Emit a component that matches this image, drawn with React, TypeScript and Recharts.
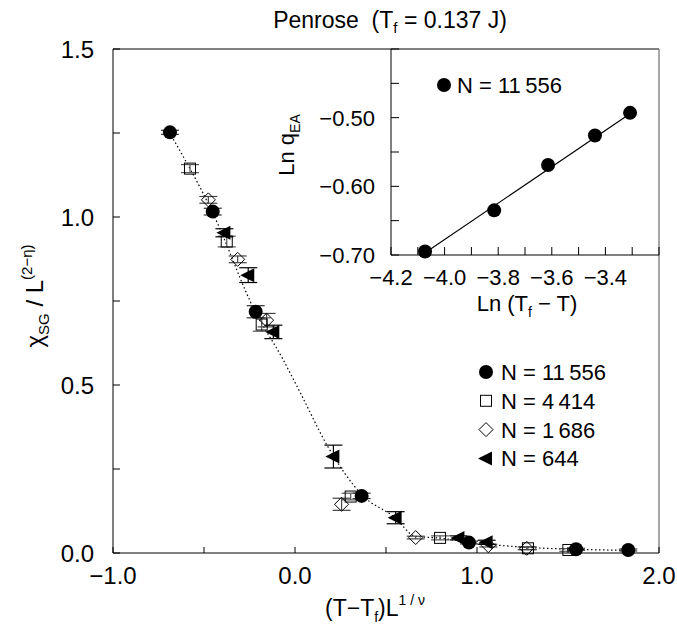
import { ComposedChart, Scatter, Line, XAxis, YAxis, ErrorBar, ReferenceLine } from 'recharts'

// main plot: scaling collapse, x = (T-Tf)L^(1/nu), y = chi_SG / L^(2-eta)
const n11556X = [-0.687, -0.452, -0.216, 0.366, 0.956, 1.544, 1.831]
const n11556Y = [1.252, 1.016, 0.718, 0.17, 0.031, 0.011, 0.009]
const n11556Err = [0.006, 0.01, 0.018, 0.008, 0.004, 0.003, 0.003]

const n4414X = [-0.577, -0.375, -0.183, 0.306, 0.797, 1.28, 1.502]
const n4414Y = [1.144, 0.927, 0.68, 0.168, 0.045, 0.014, 0.009]
const n4414Err = [0.012, 0.016, 0.02, 0.01, 0.006, 0.004, 0.004]

const n1686X = [-0.476, -0.315, -0.156, 0.256, 0.663, 1.062, 1.273]
const n1686Y = [1.051, 0.874, 0.693, 0.145, 0.046, 0.022, 0.014]
const n1686Err = [0.01, 0.01, 0.02, 0.018, 0.004, 0.004, 0.004]

const n644X = [-0.388, -0.257, -0.119, 0.211, 0.553, 0.898, 1.053]
const n644Y = [0.953, 0.827, 0.658, 0.287, 0.105, 0.045, 0.032]
const n644Err = [0.012, 0.022, 0.02, 0.034, 0.018, 0.006, 0.006]

// dotted guide curve
const curveX = [-0.69, -0.45, -0.22, -0.07, 0.03, 0.18, 0.37, 0.55, 0.66, 0.8, 0.96, 1.27, 1.54, 1.83]
const curveY = [1.252, 1.01, 0.72, 0.58, 0.476, 0.317, 0.172, 0.105, 0.05, 0.044, 0.032, 0.017, 0.011, 0.008]

const mainXTicks = [-1, -0.5, 0, 0.5, 1, 1.5, 2]
const mainYTicks = [0, 0.25, 0.5, 0.75, 1, 1.25, 1.5]

// inset: Ln q_EA vs Ln(Tf - T)
const insetX = [-4.073, -3.815, -3.614, -3.439, -3.308]
const insetY = [-0.695, -0.635, -0.569, -0.526, -0.493]
const fitX = [-4.085, -3.3]
const fitY = [-0.7, -0.492]

const insetXTicks = [-4.2, -4.1, -4.0, -3.9, -3.8, -3.7, -3.6, -3.5, -3.4, -3.3, -3.2]
const insetXLabels = [-4.2, -4.0, -3.8, -3.6, -3.4]
const insetYTicks = [-0.7, -0.65, -0.6, -0.55, -0.5, -0.45, -0.4]
const insetYLabels = [-0.7, -0.6, -0.5]

const zip = (xs: number[], ys: number[], es?: number[]) =>
  xs.map((x, i) => ({ x, y: ys[i], err: es ? es[i] : 0 }))

const fmt = (v: number, d: number) => v.toFixed(d).replace('-', '\u2212')
const near = (v: number, list: number[]) => list.some((t) => Math.abs(t - v) < 1e-6)

const FONT = '"Liberation Sans", Arial, sans-serif'

const Dot = ({ cx, cy }: any) => <circle cx={cx} cy={cy} r={7} fill="#000" />
const Square = ({ cx, cy }: any) => (
  <rect x={cx - 5.5} y={cy - 5.5} width={11} height={11} fill="none" stroke="#000" strokeWidth={1} />
)
const Diamond = ({ cx, cy }: any) => (
  <polygon points={`${cx},${cy - 7} ${cx + 7},${cy} ${cx},${cy + 7} ${cx - 7},${cy}`} fill="none" stroke="#000" strokeWidth={1} />
)
const Tri = ({ cx, cy }: any) => (
  <polygon points={`${cx - 8},${cy} ${cx + 6},${cy - 7} ${cx + 6},${cy + 7}`} fill="#000" />
)

const MainXTick = ({ x, y, payload }: any) => (
  <g>
    <line x1={x} y1={y} x2={x} y2={y - 6} stroke="#000" />
    {Number.isInteger(payload.value) && (
      <text x={x} y={y + 31} textAnchor="middle" fontSize={24} fill="#000">{fmt(payload.value, 1)}</text>
    )}
  </g>
)
const MainYTick = ({ x, y, payload }: any) => (
  <g>
    <line x1={x} y1={y} x2={x + 7} y2={y} stroke="#000" />
    {near(payload.value * 2, [0, 1, 2, 3]) && (
      <text x={x - 19} y={y + 8.5} textAnchor="end" fontSize={24} fill="#000">{fmt(payload.value, 1)}</text>
    )}
  </g>
)
const InsetXTick = ({ x, y, payload }: any) => (
  <g>
    <line x1={x} y1={y} x2={x} y2={y - 8} stroke="#000" />
    {near(payload.value, insetXLabels) && (
      <text x={x} y={y + 30} textAnchor="middle" fontSize={22} fill="#000">{fmt(payload.value, 1)}</text>
    )}
  </g>
)
const InsetYTick = ({ x, y, payload }: any) => (
  <g>
    <line x1={x} y1={y} x2={x + 8} y2={y} stroke="#000" />
    {near(payload.value, insetYLabels) && (
      <text x={x - 16} y={y + 8} textAnchor="end" fontSize={22} fill="#000">{fmt(payload.value, 2)}</text>
    )}
  </g>
)

const legendRows = [
  { label: 'N = 11\u2009556', Mark: Dot },
  { label: 'N = 4\u2009414', Mark: Square },
  { label: 'N = 1\u2009686', Mark: Diamond },
  { label: 'N = 644', Mark: Tri },
]

export default function App() {
  return (
    <div style={{ position: 'absolute', left: 0, top: 0, width: 677, height: 628, background: '#fff', fontFamily: FONT }}>
      <div style={{ position: 'absolute', left: 0, top: 0 }}>
        <ComposedChart width={677} height={628} margin={{ top: 49, right: 18, bottom: 35, left: 53 }}>
          <XAxis type="number" dataKey="x" domain={[-1, 2]} ticks={mainXTicks} interval={0} tickSize={0} tickMargin={0} tick={<MainXTick />} height={40} axisLine={{ stroke: '#000' }} tickLine={false} />
          <YAxis type="number" dataKey="y" domain={[0, 1.5]} ticks={mainYTicks} interval={0} tickSize={0} tickMargin={0} tick={<MainYTick />} width={60} axisLine={{ stroke: '#000' }} tickLine={false} />
          <ReferenceLine y={1.5} stroke="#000" />
          <ReferenceLine x={2} stroke="#888" strokeWidth={1.5} />
          <Line data={zip(curveX, curveY)} dataKey="y" type="monotone" stroke="#000" strokeWidth={1.2} strokeDasharray="1.5 2.5" dot={false} activeDot={false} isAnimationActive={false} />
          <Scatter data={zip(n4414X, n4414Y, n4414Err)} shape={<Square />} isAnimationActive={false}>
            <ErrorBar dataKey="err" direction="y" width={9} stroke="#555" strokeWidth={1.2} />
          </Scatter>
          <Scatter data={zip(n1686X, n1686Y, n1686Err)} shape={<Diamond />} isAnimationActive={false}>
            <ErrorBar dataKey="err" direction="y" width={9} stroke="#444" strokeWidth={1.2} />
          </Scatter>
          <Scatter data={zip(n644X, n644Y, n644Err)} shape={<Tri />} isAnimationActive={false}>
            <ErrorBar dataKey="err" direction="y" width={9} stroke="#000" strokeWidth={1.2} />
          </Scatter>
          <Scatter data={zip(n11556X, n11556Y, n11556Err)} shape={<Dot />} isAnimationActive={false}>
            <ErrorBar dataKey="err" direction="y" width={9} stroke="#333" strokeWidth={1.2} />
          </Scatter>
        </ComposedChart>
      </div>
      <div style={{ position: 'absolute', left: 0, top: 0, pointerEvents: 'none' }}>
        <ComposedChart width={677} height={628} margin={{ top: 49, right: 18, bottom: 333, left: 331 }}>
          <XAxis type="number" dataKey="x" domain={[-4.2, -3.2]} ticks={insetXTicks} interval={0} tickSize={0} tickMargin={0} tick={<InsetXTick />} height={40} axisLine={{ stroke: '#000' }} tickLine={false} />
          <YAxis type="number" dataKey="y" domain={[-0.7, -0.4]} ticks={insetYTicks} interval={0} tickSize={0} tickMargin={0} tick={<InsetYTick />} width={60} axisLine={{ stroke: '#000' }} tickLine={false} />
          <Line data={zip(fitX, fitY)} dataKey="y" type="linear" stroke="#000" strokeWidth={1.2} dot={false} activeDot={false} isAnimationActive={false} />
          <Scatter data={zip(insetX, insetY)} shape={<Dot />} isAnimationActive={false} />
        </ComposedChart>
      </div>
      <svg width={677} height={628} style={{ position: 'absolute', left: 0, top: 0, pointerEvents: 'none' }}>
        <text x={390} y={28} textAnchor="middle" fontSize={23} style={{ whiteSpace: 'pre' }}>
          <tspan>Penrose  (T</tspan>
          <tspan dy={5} fontSize={15}>f</tspan>
          <tspan dy={-5}> = 0.137 J)</tspan>
        </text>
        <text transform="translate(43,296) rotate(-90)" textAnchor="middle" fontSize={24}>
          <tspan>{'\u03c7'}</tspan>
          <tspan dy={6} fontSize={15}>SG</tspan>
          <tspan dy={-6}> / L</tspan>
          <tspan dy={-11} fontSize={15}>(2{'\u2212'}{'\u03b7'})</tspan>
        </text>
        <text x={375} y={616} textAnchor="middle" fontSize={23}>
          <tspan>(T{'\u2212'}T</tspan>
          <tspan dy={6} fontSize={14}>f</tspan>
          <tspan dy={-6}>)L</tspan>
          <tspan dy={-11} fontSize={14}>1 / {'\u03bd'}</tspan>
        </text>
        <text transform="translate(294,145) rotate(-90)" textAnchor="middle" fontSize={22}>
          <tspan>Ln q</tspan>
          <tspan dy={6} fontSize={14}>EA</tspan>
        </text>
        <text x={527} y={311} textAnchor="middle" fontSize={22}>
          <tspan>Ln (T</tspan>
          <tspan dy={6} fontSize={14}>f</tspan>
          <tspan dy={-6}> {'\u2212'} T)</tspan>
        </text>
        <Dot cx={444} cy={85} />
        <text x={457} y={93} fontSize={22}>N = 11{'\u2009'}556</text>
        {legendRows.map(({ label, Mark }, i) => (
          <g key={label}>
            <Mark cx={486} cy={372 + i * 28.8} />
            <text x={501} y={380 + i * 28.8} fontSize={22}>{label}</text>
          </g>
        ))}
      </svg>
    </div>
  )
}
